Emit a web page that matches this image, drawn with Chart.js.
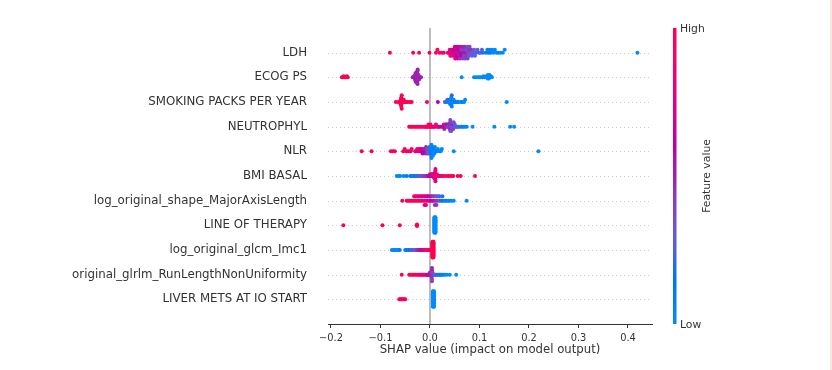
<!DOCTYPE html>
<html><head><meta charset="utf-8">
<script src="https://cdn.jsdelivr.net/npm/chart.js@4/dist/chart.umd.min.js"></script>
<style>html,body{margin:0;padding:0;background:#fff;}canvas{display:block;}</style>
</head><body>
<canvas id="c" width="832" height="370"></canvas>
<script>
const features = ["LDH","ECOG PS","SMOKING PACKS PER YEAR","NEUTROPHYL","NLR","BMI BASAL","log_original_shape_MajorAxisLength","LINE OF THERAPY","log_original_glcm_Imc1","original_glrlm_RunLengthNonUniformity","LIVER METS AT IO START"];
const xTicks = [-0.2,-0.1,0.0,0.1,0.2,0.3,0.4];
const xRange = [-0.206, 0.4485];
const colorbarLabels = ["High","Low"];
const colorbarTitle = "Feature value";
const xTitle = "SHAP value (impact on model output)";

// each sample: [SHAP value, normalised feature value (0 = low, 1 = high)]
const ldh = [[-0.081,1],[-0.034,1],[-0.022,0.95],[-0.001,1],[0.012,0.95],[0.015,1],[0.019,0.9],[0.024,0.95],[0.028,0.9],
[0.036,0.8],[0.038,0.85],[0.040,0.75],[0.041,0.8],[0.043,0.85],[0.044,0.7],[0.045,0.8],[0.047,0.75],[0.048,0.65],[0.049,0.8],[0.050,0.7],[0.051,0.75],[0.052,0.55],[0.053,0.7],[0.054,0.65],[0.055,0.6],[0.056,0.75],[0.057,0.5],[0.058,0.65],[0.059,0.55],[0.060,0.7],[0.061,0.45],[0.062,0.6],[0.063,0.4],[0.064,0.65],[0.065,0.5],[0.066,0.4],[0.067,0.55],[0.068,0.45],[0.069,0.35],[0.070,0.5],[0.071,0.4],[0.072,0.55],[0.073,0.35],[0.074,0.45],[0.075,0.3],[0.076,0.4],[0.077,0.35],[0.078,0.45],[0.079,0.3],[0.080,0.4],[0.082,0.35],[0.083,0.45],[0.085,0.3],[0.087,0.25],[0.089,0.35],[0.091,0.3],[0.093,0.25],[0.096,0.3],[0.099,0.2],[0.102,0.3],[0.105,0.25],[0.107,0.2],
[0.113,0.1],[0.116,0.05],[0.118,0.1],[0.120,0.05],[0.122,0.1],[0.125,0.05],[0.128,0],[0.131,0.05],[0.134,0],[0.138,0.05],[0.142,0],[0.147,0],[0.151,0],[0.419,0]];

const ecog = [[-0.178,1],[-0.176,1],[-0.174,1],[-0.172,1],[-0.170,1],[-0.168,1],[-0.166,1],
[-0.035,0.5],[-0.033,0.5],[-0.032,0.5],[-0.031,0.5],[-0.031,0.5],[-0.030,0.5],[-0.030,0.5],[-0.030,0.5],[-0.029,0.5],[-0.029,0.5],[-0.029,0.5],[-0.029,0.5],[-0.028,0.5],[-0.028,0.5],[-0.028,0.5],[-0.028,0.5],[-0.027,0.5],[-0.027,0.5],[-0.027,0.5],[-0.027,0.5],[-0.026,0.5],[-0.026,0.5],[-0.026,0.5],[-0.025,0.5],[-0.025,0.5],[-0.025,0.5],[-0.024,0.5],[-0.024,0.5],[-0.023,0.5],[-0.023,0.5],[-0.022,0.5],[-0.020,0.5],[-0.018,0.5],
[0.064,0],[0.089,0],[0.093,0],[0.097,0],[0.100,0],[0.103,0],[0.106,0],[0.108,0],[0.110,0],[0.112,0],[0.114,0],[0.115,0],[0.116,0],[0.117,0],[0.117,0],[0.118,0],[0.119,0],[0.119,0],[0.120,0],[0.121,0],[0.123,0],[0.125,0]];

const smoking = [[-0.069,1],[-0.064,1],[-0.062,0.95],[-0.060,1],[-0.059,1],[-0.059,1],[-0.058,0.95],[-0.058,1],[-0.058,1],[-0.058,1],[-0.058,0.95],[-0.057,1],[-0.057,1],[-0.056,0.95],[-0.055,1],[-0.054,1],[-0.053,1],[-0.051,0.95],[-0.049,1],[-0.047,1],[-0.044,1],[-0.040,1],[-0.037,1],
[-0.006,0.85],[0.016,0.6],
[0.030,0.3],[0.033,0.1],[0.035,0.35],[0.037,0.05],[0.038,0.25],[0.039,0.1],[0.040,0],[0.041,0.1],[0.041,0],[0.042,0.05],[0.042,0],[0.043,0.1],[0.043,0],[0.044,0.05],[0.044,0.2],[0.045,0],[0.046,0.1],[0.047,0.05],[0.048,0],[0.050,0.15],[0.052,0],[0.054,0.1],[0.056,0],[0.058,0.05],[0.062,0],[0.066,0.1],[0.069,0],[0.071,0],[0.155,0]];

const neutrophyl = [[-0.042,1],[-0.039,1],[-0.036,0.95],[-0.033,1],[-0.030,1],[-0.027,0.95],[-0.024,1],[-0.021,0.9],[-0.018,1],[-0.015,0.95],[-0.012,1],[-0.010,0.9],[-0.008,0.95],[-0.006,1],[-0.004,0.9],[-0.003,1],[-0.002,0.85],[0.000,0.95],[0.001,1],[0.002,0.9],[0.004,0.85],[0.006,0.9],[0.008,0.8],[0.010,0.85],[0.012,0.9],[0.014,0.8],[0.016,0.75],[0.018,0.85],[0.020,0.7],
[0.024,0.6],[0.026,0.65],[0.027,0.55],[0.028,0.7],[0.029,0.5],[0.030,0.6],[0.031,0.45],[0.032,0.55],[0.033,0.5],[0.034,0.4],[0.035,0.6],[0.036,0.45],[0.037,0.5],[0.038,0.35],[0.039,0.45],[0.040,0.4],[0.040,0.5],[0.040,0.45],[0.041,0.5],[0.041,0.35],[0.041,0.4],[0.042,0.35],[0.042,0.45],[0.042,0.5],[0.043,0.4],[0.043,0.3],[0.044,0.3],[0.045,0.45],[0.045,0.4],[0.046,0.35],[0.046,0.5],[0.047,0.4],[0.048,0.3],[0.049,0.35],[0.050,0.25],[0.052,0.3],[0.054,0.35],[0.056,0.25],[0.057,0.3],
[0.061,0.1],[0.064,0.05],[0.067,0.1],[0.070,0],[0.074,0.05],[0.086,0],[0.130,0],[0.162,0],[0.170,0]];

const nlr = [[-0.138,1],[-0.118,1],[-0.079,1],[-0.075,1],[-0.071,0.95],[-0.054,1],[-0.051,0.95],[-0.048,0.9],[-0.045,1],[-0.042,0.9],[-0.039,0.85],[-0.037,0.9],
[-0.030,0.85],[-0.028,0.8],[-0.026,0.85],[-0.024,0.75],[-0.022,0.8],[-0.020,0.7],[-0.019,0.75],[-0.018,0.65],[-0.016,0.7],[-0.015,0.6],[-0.014,0.65],[-0.012,0.55],[-0.011,0.6],[-0.010,0.5],[-0.009,0.55],[-0.008,0.45],[-0.007,0.5],[-0.006,0.4],[-0.005,0.45],[-0.004,0.35],[-0.003,0.3],
[-0.002,0.3],[-0.001,0.2],[0.000,0.25],[0.001,0.1],[0.002,0.15],[0.002,0.05],[0.003,0.1],[0.003,0],[0.003,0.05],[0.004,0.1],[0.004,0],[0.005,0.05],[0.005,0.1],[0.006,0],[0.007,0.05],[0.008,0.1],[0.009,0],[0.010,0.05],[0.012,0],[0.014,0.05],[0.016,0],[0.019,0],[0.022,0],[0.024,0.05],[0.048,0],[0.219,0]];

const bmi = [[-0.067,0],[-0.063,0.05],[-0.060,0],[-0.053,0.05],[-0.047,0.1],[-0.040,0.1],[-0.037,0.15],[-0.034,0.05],[-0.031,0.2],[-0.029,0.15],[-0.027,0.25],[-0.024,0.2],[-0.022,0.3],[-0.020,0.25],[-0.018,0.35],[-0.016,0.3],[-0.014,0.4],[-0.012,0.35],[-0.010,0.45],[-0.008,0.4],[-0.006,0.5],[-0.004,0.55],[-0.002,0.5],[-0.001,0.6],
[0.000,0.65],[0.001,0.7],[0.002,0.6],[0.003,0.75],[0.004,0.7],[0.005,0.8],[0.006,0.65],[0.007,0.75],[0.008,0.8],[0.008,0.7],[0.009,0.7],[0.009,0.85],[0.009,0.75],[0.010,0.75],[0.010,0.8],[0.010,0.85],[0.010,0.7],[0.011,0.7],[0.011,0.85],[0.011,0.8],[0.011,0.75],[0.012,0.8],[0.012,0.75],[0.013,0.75],[0.014,0.85],[0.015,0.8],[0.017,0.9],[0.019,0.85],[0.021,0.8],[0.023,0.9],[0.026,0.85],[0.029,0.9],
[0.034,1],[0.037,0.95],[0.040,1],[0.044,0.95],[0.047,1],[0.056,1],[0.062,1],[0.091,1]];

const majorAxis = [[-0.056,1],[-0.047,1],[-0.044,1],[-0.041,0.95],[-0.038,1],[-0.035,0.95],
[-0.032,1],[-0.032,1],[-0.029,0.95],[-0.029,0.85],[-0.026,1],[-0.026,0.8],[-0.023,0.9],[-0.023,0.85],[-0.020,0.95],[-0.020,0.8],[-0.017,0.9],[-0.017,0.75],[-0.014,0.85],[-0.014,0.8],
[-0.011,0.9],[-0.011,0.75],[-0.011,0.8],[-0.008,0.85],[-0.008,0.7],[-0.008,0.75],[-0.005,0.8],[-0.005,0.65],[-0.002,0.75],[-0.002,0.6],[0.001,0.7],[0.001,0.55],[0.004,0.6],[0.004,0.5],[0.007,0.55],[0.007,0.45],
[0.010,0.5],[0.010,0.4],[0.010,0.5],[0.013,0.45],[0.013,0.35],[0.013,0.45],[0.016,0.4],[0.016,0.3],[0.019,0.3],[0.019,0.25],[0.022,0.2],[0.025,0.15],[0.025,0.2],
[0.028,0.1],[0.031,0.05],[0.034,0.1],[0.037,0],[0.040,0.05],[0.044,0],[0.048,0],[0.074,0]];

const lineOfTherapy = [[-0.175,1],[-0.096,1],[-0.061,1],[-0.027,1],[-0.026,1],[-0.026,1],
[0.009,0],[0.009,0],[0.009,0],[0.009,0],[0.009,0],[0.009,0],[0.009,0],[0.009,0],[0.009,0],[0.009,0],[0.009,0],[0.009,0],[0.009,0],[0.009,0],[0.009,0],[0.009,0],[0.009,0],[0.009,0],[0.009,0],[0.009,0],[0.009,0],[0.009,0],
[0.011,0],[0.011,0],[0.011,0],[0.011,0],[0.011,0],[0.011,0],[0.011,0],[0.011,0],[0.011,0],[0.011,0],[0.011,0],[0.011,0],[0.011,0],[0.011,0],[0.011,0],[0.011,0],[0.011,0],[0.011,0],[0.011,0],[0.011,0],[0.011,0],[0.011,0]];

const glcmImc1 = [[-0.077,0],[-0.074,0],[-0.072,0.05],[-0.069,0],[-0.066,0.05],[-0.063,0],[-0.061,0.1],[-0.050,0.1],[-0.047,0.15],[-0.044,0.2],[-0.041,0.15],[-0.038,0.25],[-0.035,0.2],[-0.032,0.3],[-0.029,0.35],[-0.027,0.4],[-0.025,0.45],[-0.023,0.5],[-0.021,0.55],[-0.019,0.5],[-0.017,0.6],[-0.015,0.65],[-0.013,0.7],[-0.011,0.75],[-0.009,0.8],[-0.007,0.85],[-0.005,0.9],[-0.003,0.85],[-0.001,0.9],[0.001,0.95],[0.003,0.95],
[0.005,1],[0.005,1],[0.005,1],[0.005,1],[0.005,1],[0.005,1],[0.005,1],[0.005,1],[0.005,1],[0.005,1],[0.005,1],[0.005,1],[0.005,1],[0.005,1],[0.005,1],[0.005,1],[0.005,1],[0.005,1],[0.005,1],[0.005,1],[0.005,1],[0.005,1],
[0.007,1],[0.007,1],[0.007,1],[0.007,1],[0.007,1],[0.007,1],[0.007,1],[0.007,1],[0.007,1],[0.007,1],[0.007,1],[0.007,1],[0.007,1],[0.007,1],[0.007,1],[0.007,1],[0.007,1],[0.007,1],[0.007,1],[0.007,1],[0.007,1],[0.007,1]];

const glrlm = [[-0.057,1],[-0.042,1],[-0.039,0.95],[-0.036,1],[-0.033,0.9],[-0.030,0.95],[-0.027,1],[-0.024,0.9],[-0.022,0.85],[-0.020,0.95],[-0.018,0.8],[-0.016,0.9],[-0.014,0.85],[-0.012,0.75],[-0.010,0.8],[-0.008,0.7],[-0.006,0.85],[-0.005,0.65],[-0.004,0.75],[-0.003,0.6],[-0.002,0.7],[-0.001,0.55],[0.000,0.65],[0.000,0.5],[0.001,0.6],[0.002,0.45],[0.002,0.55],[0.003,0.5],[0.003,0.4],[0.003,0.45],[0.004,0.55],[0.004,0.45],[0.004,0.5],[0.004,0.4],[0.005,0.5],[0.005,0.35],[0.006,0.4],[0.007,0.45],[0.008,0.3],[0.009,0.4],[0.010,0.25],[0.012,0.3],[0.014,0.2],[0.016,0.15],[0.018,0.25],[0.020,0.1],[0.022,0.15],[0.024,0.05],[0.027,0.1],[0.030,0],[0.034,0],[0.040,0],[0.053,0]];

const liverMets = [[-0.062,1],[-0.060,1],[-0.058,1],[-0.056,1],[-0.054,1],[-0.052,1],[-0.050,1],
[0.006,0],[0.006,0],[0.006,0],[0.006,0],[0.006,0],[0.006,0],[0.006,0],[0.006,0],[0.006,0],[0.006,0],[0.006,0],[0.006,0],[0.006,0],[0.006,0],[0.006,0],[0.006,0],[0.006,0],[0.006,0],[0.006,0],[0.006,0],[0.006,0],[0.006,0],[0.006,0],[0.006,0],
[0.008,0],[0.008,0],[0.008,0],[0.008,0],[0.008,0],[0.008,0],[0.008,0],[0.008,0],[0.008,0],[0.008,0],[0.008,0],[0.008,0],[0.008,0],[0.008,0],[0.008,0],[0.008,0],[0.008,0],[0.008,0],[0.008,0],[0.008,0],[0.008,0],[0.008,0],[0.008,0],[0.008,0]];

const samples = [ldh, ecog, smoking, neutrophyl, nlr, bmi, majorAxis, lineOfTherapy, glcmImc1, glrlm, liverMets];

// SHAP red-blue colormap (LCH interpolation)
function shapColor(t){
  t = Math.max(0, Math.min(1, t));
  const L = t < 0.5 ? 54 + (40-54)*(t/0.5) : 40 + (54-40)*((t-0.5)/0.5);
  const C = 70 + 20*t;
  const H = 4.6588 + t*(0.35470565 + 2*Math.PI - 4.6588);
  const a = C*Math.cos(H), b = C*Math.sin(H);
  const fy = (L+16)/116, fx = fy + a/500, fz = fy - b/200;
  const f = v => v > 0.206893 ? v*v*v : (v - 16/116)/7.787;
  const X = 0.95047*f(fx), Y = f(fy), Z = 1.08883*f(fz);
  const r = 3.2406*X - 1.5372*Y - 0.4986*Z;
  const g = -0.9689*X + 1.8758*Y + 0.0415*Z;
  const bl = 0.0557*X - 0.2040*Y + 1.0570*Z;
  const gam = v => { v = Math.max(0, Math.min(1, v)); return Math.round(255*(v <= 0.0031308 ? 12.92*v : 1.055*Math.pow(v, 1/2.4) - 0.055)); };
  return `rgb(${gam(r)},${gam(g)},${gam(bl)})`;
}

// beeswarm vertical offsets (same binning scheme as shap)
function swarm(vals, rowHeight){
  const n = vals.length, nbins = 100;
  const mn = Math.min(...vals), mx = Math.max(...vals);
  const quant = vals.map(v => Math.round(nbins*(v - mn)/(mx - mn + 1e-8)));
  const inds = [...Array(n).keys()].sort((a, b) => quant[a] - quant[b] || a - b);
  let layer = 0, last = -1;
  const ys = new Array(n).fill(0);
  for (const i of inds){
    if (quant[i] !== last) layer = 0;
    ys[i] = Math.ceil(layer/2)*((layer % 2)*2 - 1);
    layer++; last = quant[i];
  }
  const m = Math.max(...ys.map(y => y + 1));
  return ys.map(y => y*0.9*(rowHeight/m));
}

const nF = features.length;
const datasets = [];
for (let i = nF - 1; i >= 0; i--){
  const arr = samples[i];
  const pos = nF - 1 - i;
  const ys = swarm(arr.map(p => p[0]), 0.4);
  datasets.push({
    label: features[i],
    data: arr.map((p, j) => ({x: p[0], y: pos + ys[j]})),
    backgroundColor: arr.map(p => shapColor(p[1])),
    pointRadius: 2.0, pointHoverRadius: 2.0, pointBorderWidth: 0, borderWidth: 0
  });
}

const FONT = 'DejaVu Sans';
const TXT = '#333333';

const guides = {
  id: 'guides',
  beforeDatasetsDraw(chart){
    const {ctx, chartArea: a, scales: {x, y}} = chart;
    ctx.save();
    ctx.strokeStyle = '#cccccc'; ctx.lineWidth = 1; ctx.setLineDash([1, 3]);
    for (let i = 0; i < nF; i++){
      const py = Math.round(y.getPixelForValue(i)) + 0.5;
      ctx.beginPath(); ctx.moveTo(a.left, py); ctx.lineTo(a.right, py); ctx.stroke();
    }
    ctx.setLineDash([]);
    const px = x.getPixelForValue(0);
    ctx.strokeStyle = '#999999'; ctx.lineWidth = 1.3;
    ctx.beginPath(); ctx.moveTo(px, a.top); ctx.lineTo(px, a.bottom); ctx.stroke();
    ctx.restore();
  }
};

const colorbar = {
  id: 'colorbar',
  afterDraw(chart){
    const {ctx, chartArea: a} = chart;
    const top = a.top, bot = a.bottom, x0 = 673, w = 3.5;
    ctx.save();
    const grd = ctx.createLinearGradient(0, bot, 0, top);
    for (let k = 0; k <= 20; k++) grd.addColorStop(k/20, shapColor(k/20));
    ctx.fillStyle = grd;
    ctx.fillRect(x0, top, w, bot - top);
    ctx.fillStyle = TXT;
    ctx.font = `10.8px "${FONT}"`;
    ctx.textAlign = 'left'; ctx.textBaseline = 'middle';
    ctx.fillText(colorbarLabels[0], 680, top + 1);
    ctx.fillText(colorbarLabels[1], 680, bot + 1);
    ctx.translate(707.5, (top + bot)/2);
    ctx.rotate(-Math.PI/2);
    ctx.textAlign = 'center';
    ctx.fillText(colorbarTitle, 0, 0);
    ctx.restore();
    ctx.save();
    ctx.fillStyle = '#fbe7d7';
    ctx.fillRect(830, 0, 2, 370);
    ctx.restore();
  }
};

new Chart(document.getElementById('c'), {
  type: 'scatter',
  data: {datasets},
  options: {
    responsive: false, animation: false, events: [],
    layout: {padding: {left: 0, right: 180, top: 28, bottom: 0}},
    plugins: {legend: {display: false}, tooltip: {enabled: false}},
    scales: {
      x: {
        type: 'linear', min: xRange[0], max: xRange[1],
        afterBuildTicks: s => { s.ticks = xTicks.map(v => ({value: v})); },
        afterFit: s => { s.height = 46; s.paddingLeft = 0; s.paddingRight = 0; },
        grid: {display: true, drawOnChartArea: false, drawTicks: true, tickLength: 4, tickColor: TXT, tickWidth: 1},
        border: {display: true, color: TXT, width: 1},
        ticks: {color: TXT, font: {family: FONT, size: 9.9}, padding: 4, maxRotation: 0, autoSkip: false,
          callback: v => (v < -1e-9 ? '\u2212' : '') + Math.abs(v).toFixed(1)},
        title: {display: true, text: xTitle, color: TXT, font: {family: FONT, size: 11.7}, padding: {top: 0, bottom: 13}}
      },
      y: {
        type: 'linear', min: -1, max: nF,
        afterBuildTicks: s => { s.ticks = features.map((_, i) => ({value: i})); },
        afterFit: s => { s.width = 328; s.paddingTop = 0; s.paddingBottom = 0; },
        grid: {display: false, drawTicks: false}, border: {display: false},
        ticks: {color: TXT, font: {family: FONT, size: 11.8}, padding: 21, autoSkip: false,
          callback: v => features[nF - 1 - Math.round(v)]}
      }
    }
  },
  plugins: [guides, colorbar]
});
</script>
</body></html>
